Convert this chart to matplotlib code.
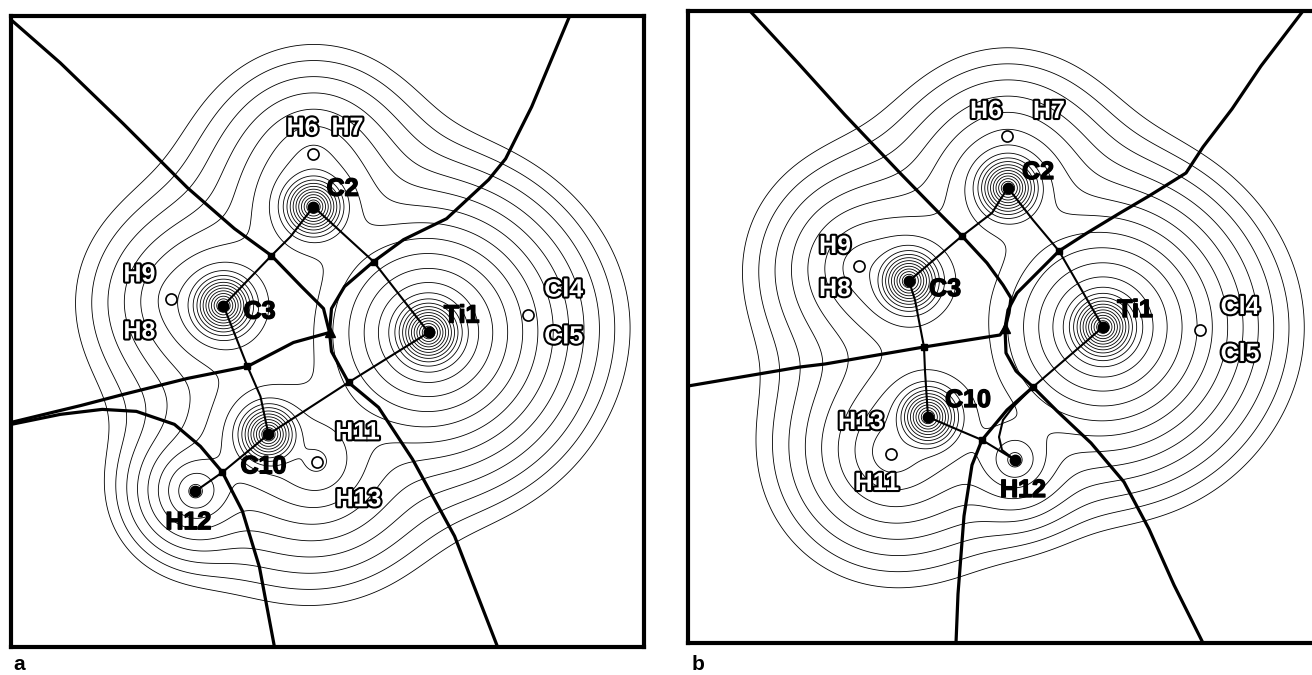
import numpy as np
import matplotlib
matplotlib.use("Agg")
import matplotlib.pyplot as plt
import matplotlib.patheffects as pe

plt.rcParams["font.family"] = ["Liberation Sans", "DejaVu Sans"]

SIZE = 632  # side of each map, plot units (y grows downwards)

# density contour values (arbitrary units)
LEVELS = [0.006, 0.0111, 0.0205, 0.038, 0.070, 0.130, 0.241, 0.446, 0.825,
          1.53, 2.83, 5.23, 9.67, 17.9, 33.1, 61.3, 113, 210, 388, 718, 1329,
          2458, 4547, 8412]

# in-plane nuclei: valence (amplitude, decay) and core (amplitude, decay)
NUC_NAMES = ["C2", "C3", "Ti1", "C10", "H12"]
NUC_AMP = [1.0, 1.0, 22.0, 1.0, 1.2]
NUC_DECAY = [26, 26, 24, 26, 16]
CORE_AMP = [530, 530, 10600, 530, 0]
CORE_DECAY = [4.3, 4.3, 4.3, 4.3, 1.0]

# ---------------- map a ----------------
NUC_X_A = [302, 212, 417, 257, 184]
NUC_Y_A = [191, 290, 317, 419, 476]
# projected out-of-plane pairs: H6/H7, H8/H9, Cl4/Cl5, H11/H13
PROJ_X_A = [302, 160, 516, 306]
PROJ_Y_A = [138, 283, 299, 447]
PROJ_AMP_A = [0.14, 0.05, 0.05, 0.6]
PROJ_Z_A = [15, 15, 60, 10]
PROJ_DECAY_A = [26, 26, 26, 26]
BCP_X_A = [260, 362, 236, 337, 211]
BCP_Y_A = [240, 246, 351, 367, 457]
RCP_X_A, RCP_Y_A = [318], [317]

IAS_A = [
    ([0, 49, 112, 176, 223, 260, 290, 312, 318], [4, 47, 108, 172, 213, 240, 271, 293, 317]),
    ([318, 320, 333, 362, 392, 435, 477, 494, 520, 558], [317, 293, 271, 246, 224, 203, 164, 143, 91, 0]),
    ([318, 282, 236, 176, 112, 70, 0], [317, 327, 351, 363, 379, 390, 407]),
    ([318, 320, 337, 367, 401, 443, 486], [317, 336, 367, 392, 444, 521, 632]),
    ([0, 49, 91, 125, 163, 189, 211, 231, 248, 263], [409, 399, 394, 396, 409, 431, 457, 496, 552, 632]),
]
PATHS_A = [
    ([302, 292, 279, 260, 212], [191, 204, 221, 240, 290]),   # C2-C3
    ([302, 362, 417], [191, 246, 317]),                       # C2-Ti1
    ([212, 236, 249, 257], [290, 351, 381, 419]),             # C3-C10
    ([257, 337, 417], [419, 367, 317]),                       # C10-Ti1
    ([257, 211, 184], [419, 457, 476]),                       # C10-H12
]
LAB_A = ["H6", "H7", "C2", "H9", "H8", "C3", "Ti1", "Cl4", "Cl5", "H11", "C10", "H13", "H12"]
LAB_X_A = [291, 336, 331, 128, 128, 248, 450, 552, 552, 346, 252, 347, 177]
LAB_Y_A = [112, 112, 173, 259, 316, 296, 300, 274, 321, 417, 451, 484, 507]

# ---------------- map b ----------------
NUC_X_B = [320, 221, 415, 240, 327]
NUC_Y_B = [177, 270, 316, 406, 449]
PROJ_X_B = [319, 171, 512, 203]
PROJ_Y_B = [125, 255, 319, 443]
PROJ_AMP_B = [0.02, 0.19, 0.05, 0.41]
PROJ_Z_B = [15, 15, 60, 10]
PROJ_DECAY_B = [26, 26, 26, 26]
BCP_X_B = [274, 371, 236, 345, 294]
BCP_Y_B = [225, 240, 336, 376, 429]
RCP_X_B, RCP_Y_B = [317], [317]

IAS_B = [
    ([62, 110, 157, 212, 252, 274, 299, 315, 323, 321, 317], [0, 52, 104, 162, 203, 225, 252, 274, 287, 302, 317]),
    ([317, 320, 329, 345, 371, 399, 432, 461, 498, 515, 544, 573, 615], [317, 299, 282, 266, 240, 222, 202, 185, 162, 136, 98, 55, 0]),
    ([317, 312, 236, 137, 112, 0], [317, 324, 336, 353, 356, 375]),
    ([317, 318, 328, 345, 369, 403, 436, 461, 486, 515], [317, 342, 360, 376, 400, 432, 471, 518, 574, 632]),
    ([268, 270, 276, 284, 294, 319, 345], [632, 583, 505, 454, 429, 399, 376]),
]
PATHS_B = [
    ([320, 312, 304, 274, 221], [177, 189, 202, 225, 270]),   # C2-C3
    ([320, 345, 371, 415], [177, 209, 240, 316]),             # C2-Ti1
    ([221, 227, 236, 237, 240], [270, 289, 336, 360, 406]),   # C3-C10
    ([240, 294, 327], [406, 429, 449]),                       # C10-H12
    ([415, 345], [316, 376]),                                 # Ti1-bcp
    ([345, 325, 315, 311, 314, 327], [376, 396, 409, 426, 439, 449]),  # bcp-H12
]
LAB_B = ["H6", "H7", "C2", "H9", "H8", "C3", "Ti1", "Cl4", "Cl5", "C10", "H13", "H11", "H12"]
LAB_X_B = [298, 361, 350, 147, 147, 257, 447, 552, 552, 280, 173, 189, 335]
LAB_Y_B = [100, 100, 161, 235, 278, 278, 299, 296, 343, 389, 411, 472, 479]


def density(nx, ny, px, py, pamp, pz, pdec):
    X, Y = np.meshgrid(np.arange(SIZE + 1.0), np.arange(SIZE + 1.0))
    rho = np.zeros_like(X)
    for x, y, A, a, B, b in zip(nx, ny, NUC_AMP, NUC_DECAY, CORE_AMP, CORE_DECAY):
        r = np.hypot(X - x, Y - y)
        rho += A * np.exp(-r / a) + B * np.exp(-r / b)
    # each projected point stands for two atoms, above and below the plane
    for x, y, A, z, a in zip(px, py, pamp, pz, pdec):
        r = np.sqrt((X - x) ** 2 + (Y - y) ** 2 + z ** 2)
        rho += 2 * A * np.exp(-r / a)
    return X, Y, rho


def draw_map(ax, nx, ny, px, py, pamp, pz, pdec, bx, by, rx, ry, ias, paths, labs, lx, ly):
    X, Y, rho = density(nx, ny, px, py, pamp, pz, pdec)
    ax.contour(X, Y, rho, levels=LEVELS, colors="black", linewidths=0.6, zorder=1)
    for xs, ys in ias:
        ax.plot(xs, ys, color="black", lw=2.3, solid_capstyle="round", zorder=3)
    for xs, ys in paths:
        ax.plot(xs, ys, color="black", lw=1.5, zorder=3)
    ax.plot(nx, ny, "o", color="black", ms=7.5, zorder=5)
    ax.plot(bx, by, "s", color="black", ms=5, zorder=5)
    ax.plot(rx, ry, "^", color="black", ms=7, zorder=5)
    ax.plot(px, py, "o", mfc="white", mec="black", mew=1.2, ms=8, zorder=5)
    solid = [pe.withStroke(linewidth=1.0, foreground="black")]
    outline = [pe.withStroke(linewidth=3, foreground="black")]
    for s, x, y in zip(labs, lx, ly):
        if s in NUC_NAMES:
            ax.text(x, y, s, ha="center", va="center", fontsize=18, fontweight="bold",
                    color="black", path_effects=solid, zorder=6)
        else:
            ax.text(x, y, s, ha="center", va="center", fontsize=18, fontweight="bold",
                    color="white", path_effects=outline, zorder=6)
    ax.set_xlim(0, SIZE)
    ax.set_ylim(SIZE, 0)
    ax.set_xticks([])
    ax.set_yticks([])
    for sp in ax.spines.values():
        sp.set_linewidth(3)


W, H = 1312, 675
fig = plt.figure(figsize=(W / 100, H / 100), dpi=100)
ax_a = fig.add_axes([11.3 / W, 1 - 647 / H, 632.4 / W, 631 / H])
ax_b = fig.add_axes([688 / W, 1 - 643 / H, 632 / W, 632 / H])

draw_map(ax_a, NUC_X_A, NUC_Y_A, PROJ_X_A, PROJ_Y_A, PROJ_AMP_A, PROJ_Z_A, PROJ_DECAY_A,
         BCP_X_A, BCP_Y_A, RCP_X_A, RCP_Y_A, IAS_A, PATHS_A, LAB_A, LAB_X_A, LAB_Y_A)
draw_map(ax_b, NUC_X_B, NUC_Y_B, PROJ_X_B, PROJ_Y_B, PROJ_AMP_B, PROJ_Z_B, PROJ_DECAY_B,
         BCP_X_B, BCP_Y_B, RCP_X_B, RCP_Y_B, IAS_B, PATHS_B, LAB_B, LAB_X_B, LAB_Y_B)

fig.text(19 / W, 1 - 664 / H, "a", fontsize=15, fontweight="bold", ha="center", va="center")
fig.text(698 / W, 1 - 664 / H, "b", fontsize=15, fontweight="bold", ha="center", va="center")

fig.savefig("out.png", dpi=100)
